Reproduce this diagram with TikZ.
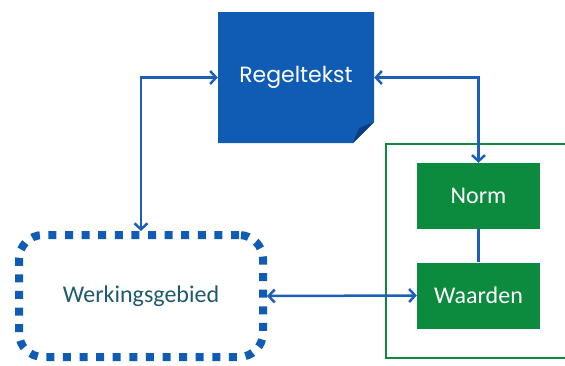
\documentclass[tikz,border=0pt]{standalone}
\usepackage{fontspec}
\usetikzlibrary{arrows.meta}
\setmainfont{Carlito}
\newfontfamily\regelfont{Poppins}
\definecolor{regelblauw}{RGB}{16,92,180}
\definecolor{vouwblauw}{RGB}{10,62,130}
\definecolor{pijlblauw}{RGB}{28,94,184}
\definecolor{normgroen}{RGB}{12,138,62}
\definecolor{tekstteal}{RGB}{30,90,108}

\begin{document}
\begin{tikzpicture}[x=1pt,y=-1pt,
  regelbox/.style={minimum width=156pt,minimum height=131pt,inner sep=0pt,text=white,
    font=\regelfont\fontsize{22}{26}\selectfont,
    path picture={\fill[regelblauw] (path picture bounding box.north west) -- (path picture bounding box.north east)
      -- ([yshift=21pt]path picture bounding box.south east) -- ([xshift=-21pt]path picture bounding box.south east)
      -- (path picture bounding box.south west) -- cycle;
      \fill[vouwblauw] ([yshift=21pt]path picture bounding box.south east) -- ([xshift=-21pt]path picture bounding box.south east)
      -- ([xshift=-15pt,yshift=15pt]path picture bounding box.south east) -- cycle;}},
  groenbox/.style={fill=normgroen,minimum width=123pt,minimum height=66pt,inner sep=0pt,text=white,
    font=\fontsize{24}{28}\selectfont},
  gebiedbox/.style={draw=regelblauw,line width=8pt,dash pattern=on 8pt off 8.6pt,rounded corners=24pt,
    minimum width=244pt,minimum height=122pt,text=tekstteal,font=\fontsize{24}{28}\selectfont},
  kaderbox/.style={draw=normgroen,line width=2.5pt,minimum width=190pt,minimum height=214pt},
  link/.style={draw=pijlblauw,line width=2.5pt},
  pijl/.style={link,{Straight Barb[length=6pt,width=13pt]}-{Straight Barb[length=6pt,width=13pt]}}]
\useasboundingbox (0,0) rectangle (565,365);
\node[kaderbox] (kader) at (481,251) {};
\node[regelbox] (regel) at (296,77.5) {Regeltekst};
\node[groenbox] (norm) at (478.5,196) {Norm};
\node[groenbox] (waarden) at (478.5,295.5) {Waarden};
\node[gebiedbox] (gebied) at (141,296) {Werkingsgebied};
\draw[pijl] (gebied.north) |- (regel.west);
\draw[pijl] (regel.east) -| (norm.north);
\draw[link] (norm) -- (waarden);
\draw[pijl] (gebied.east) -- (waarden.west);
\end{tikzpicture}
\end{document}
